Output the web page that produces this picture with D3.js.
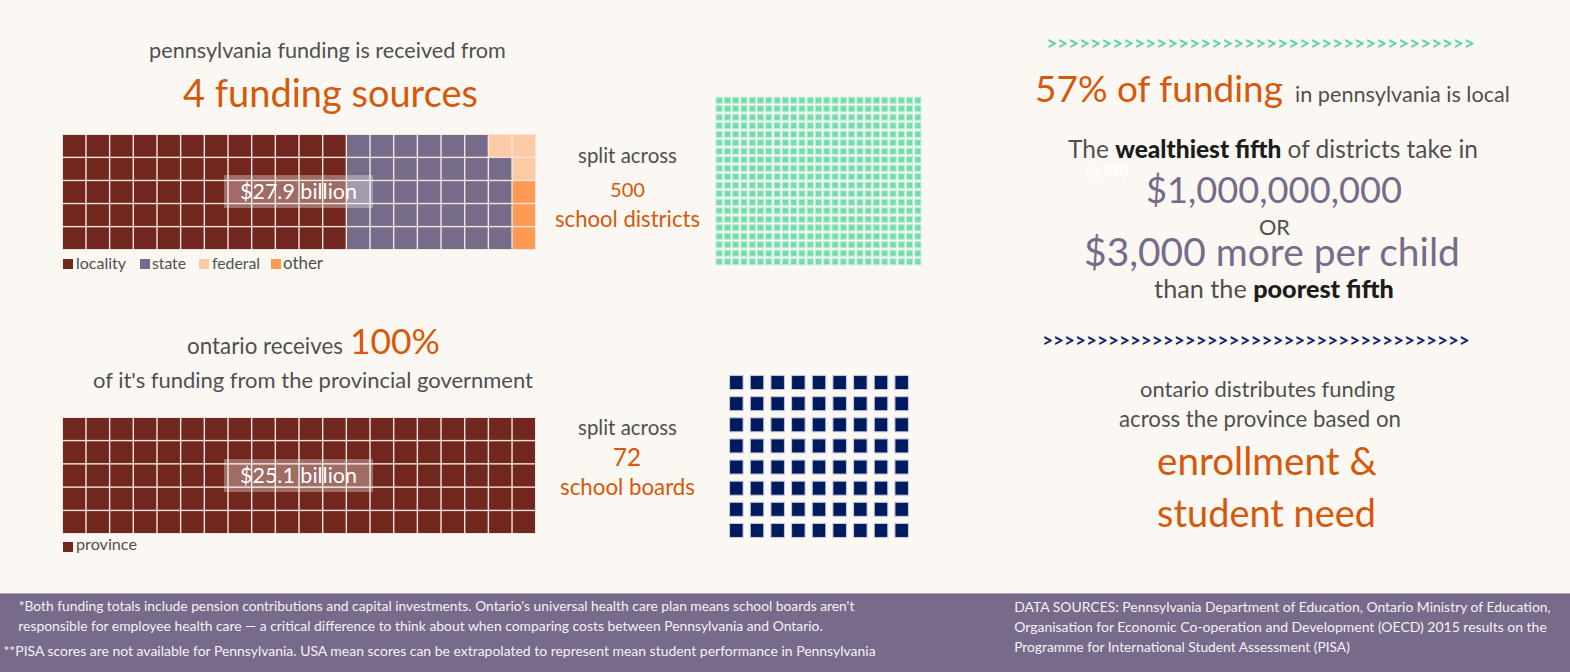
<!DOCTYPE html>
<html><head><meta charset="utf-8">
<script src="https://cdn.jsdelivr.net/npm/d3@7"></script>
<style>
html,body{margin:0;padding:0;background:#fbf8f3;}
svg{display:block;font-family:Lato,"Open Sans",sans-serif;}
</style></head>
<body><svg id="chart" width="1570" height="672"></svg>
<script>
// ---- data ----
const paSources = ["locality", "state", "federal", "other"];
const paCells = [60, 34, 3, 3];
const paTotal = "$27.9 billion";
const onSources = ["province"];
const onCells = [100];
const onTotal = "$25.1 billion";
const paDistricts = 500;
const onBoards = 72;

// ---- styles ----
const sourceColor = d3.scaleOrdinal()
  .domain(["locality", "state", "federal", "other", "province"])
  .range(["#72271e", "#776b8a", "#fdcaa6", "#fe9a52", "#72271e"]);
const ORANGE = "#d6580b", GREY = "#4f4f4f", PURPLE = "#776b8a", DARK = "#1c1c1c";

const svg = d3.select("#chart");

function fitText(sel, x0, x1, base, size) {
  sel.attr("y", base).attr("font-size", size);
  const w = sel.node().getComputedTextLength();
  const s = size * (x1 - x0) / w;
  sel.attr("font-size", s).attr("x", (x0 + x1) / 2).attr("text-anchor", "middle");
  return sel;
}
function txt(content, x0, x1, base, color, size, weight) {
  const t = svg.append("text").attr("fill", color).attr("font-weight", weight || 400).text(content);
  return fitText(t, x0, x1, base, size || 20);
}

// ---- waffle ----
function waffle(cellsArr, names, x0, x1, y0, y1, label, labelBox) {
  const cells = [];
  let idx = 0;
  names.forEach((n, k) => { for (let j = 0; j < cellsArr[k]; j++) cells.push({ name: n, i: idx++ }); });
  const cols = d3.range(20), rows = d3.range(5);
  const x = d3.scaleBand().domain(cols).range([x0, x1]).paddingInner(0.06);
  const y = d3.scaleBand().domain(rows).range([y0, y1]).paddingInner(0.06);
  const g = svg.append("g");
  g.append("rect").attr("x", x0 - 1).attr("y", y0 - 1).attr("width", x1 - x0 + 2).attr("height", y1 - y0 + 2).attr("fill", "#f3e4df");
  g.selectAll("rect.c").data(cells).join("rect").attr("class", "c")
    .attr("x", d => x(Math.floor(d.i / 5)))
    .attr("y", d => { const c = Math.floor(d.i / 5), r = d.i % 5; return y(c % 2 === 0 ? 4 - r : r); })
    .attr("width", x.bandwidth()).attr("height", y.bandwidth())
    .attr("fill", d => sourceColor(d.name));
  g.append("rect").attr("x", labelBox[0]).attr("y", labelBox[1]).attr("width", labelBox[2]).attr("height", labelBox[3])
    .attr("fill", "#ffffff").attr("fill-opacity", 0.32);
  const lt = g.append("text").attr("fill", "#ffffff").text(label);
  fitText(lt, labelBox[0] + 16, labelBox[0] + labelBox[2] - 16, labelBox[1] + 24, 20);
}

waffle(paCells, paSources, 63, 535, 135, 249, paTotal, [224, 175, 149, 33]);
waffle(onCells, onSources, 63, 535, 418, 533, onTotal, [224, 459, 149, 33]);

// legends
const paLegendX = [[63, 76, 126], [140, 152, 186], [199, 212, 260], [271, 283, 323]];
paSources.forEach((n, k) => {
  const p = paLegendX[k];
  svg.append("rect").attr("x", p[0]).attr("y", 259).attr("width", 10).attr("height", 10).attr("fill", sourceColor(n));
  const t = svg.append("text").attr("fill", GREY).text(n);
  fitText(t, p[1], p[2], 269, 15);
});
onSources.forEach((n) => {
  svg.append("rect").attr("x", 63).attr("y", 542).attr("width", 10).attr("height", 10).attr("fill", sourceColor(n));
  const t = svg.append("text").attr("fill", GREY).text(n);
  fitText(t, 76, 137, 550, 15);
});

// ---- unit grids ----
function unitGrid(n, ncol, x0, x1, y0, y1, size, fill, stroke) {
  const nrow = Math.ceil(n / ncol);
  const x = d3.scaleBand().domain(d3.range(ncol)).range([x0, x1]);
  const y = d3.scaleBand().domain(d3.range(nrow)).range([y0, y1]);
  svg.append("g").selectAll("rect").data(d3.range(n)).join("rect")
    .attr("x", i => x(i % ncol) + (x.bandwidth() - size[0]) / 2)
    .attr("y", i => y(Math.floor(i / ncol)) + (y.bandwidth() - size[1]) / 2)
    .attr("width", size[0]).attr("height", size[1])
    .attr("fill", fill).attr("stroke", stroke).attr("stroke-width", 1);
}
unitGrid(paDistricts, 25, 715, 922, 96, 266, [6, 6], "#70dcaf", "#b4ecd2");
unitGrid(onBoards, 9, 726, 912, 372, 541, [13.5, 14], "#001a5e", "#c5cadf");

// ---- left texts ----
txt("pennsylvania funding is received from", 149, 506, 58, GREY, 22);
txt("4 funding sources", 183, 478, 107, ORANGE, 40);
txt("split across", 578, 677, 163, GREY, 20);
txt(String(paDistricts), 610, 645, 197, ORANGE, 20);
txt("school districts", 555, 700, 227, ORANGE, 20);
txt("ontario receives", 187, 343, 354, GREY, 22);
txt("100%", 350, 440, 354, ORANGE, 40);
txt("of it's funding from the provincial government", 93, 533, 388, GREY, 22);
txt("split across", 578, 677, 435, GREY, 20);
txt(String(onBoards), 613, 641, 466, ORANGE, 20);
txt("school boards", 560, 695, 495, ORANGE, 20);

// ---- right texts ----
const chev = ">".repeat(39);
txt(chev, 1046, 1475, 50, "#5fd3a6", 14, 700);
txt(chev, 1042, 1470, 347, "#13256b", 14, 700);

txt("57% of funding", 1035, 1283, 102, ORANGE, 38);
txt("in pennsylvania is local", 1295, 1510, 102, GREY, 20);

const w1 = svg.append("text").attr("fill", GREY);
w1.append("tspan").text("The ");
w1.append("tspan").attr("font-weight", 900).attr("fill", DARK).text("wealthiest fifth");
w1.append("tspan").text(" of districts take in");
fitText(w1, 1068, 1478, 158, 22);

const n1 = svg.append("text").attr("fill", "#ffffff").attr("font-weight", 700).text("12,530");
fitText(n1, 1083, 1128, 177, 12);

txt("$1,000,000,000", 1146, 1402, 203, PURPLE, 40);
txt("OR", 1259, 1290, 235, GREY, 20);
txt("$3,000 more per child", 1084, 1460, 266, PURPLE, 40);

const w2 = svg.append("text").attr("fill", GREY);
w2.append("tspan").text("than the ");
w2.append("tspan").attr("font-weight", 900).attr("fill", DARK).text("poorest fifth");
fitText(w2, 1154, 1394, 298, 22);

txt("ontario distributes funding", 1140, 1395, 397, GREY, 22);
txt("across the province based on", 1119, 1401, 427, GREY, 22);
txt("enrollment &", 1157, 1377, 475, ORANGE, 38);
txt("student need", 1157, 1376, 527, ORANGE, 38);

// ---- footer ----
svg.append("rect").attr("x", 0).attr("y", 593).attr("width", 1570).attr("height", 79).attr("fill", "#776a8b");
svg.append("line").attr("x1", 0).attr("x2", 1570).attr("y1", 593.5).attr("y2", 593.5).attr("stroke", "#a79fb5").attr("stroke-width", 1);
const FOOT = "#f4f2f7";
function ftxt(content, x0, x1, base) {
  const t = svg.append("text").attr("fill", FOOT).text(content);
  fitText(t, x0, x1, base, 13);
}
ftxt("*Both funding totals include pension contributions and capital investments. Ontario's universal health care plan means school boards aren't", 18, 855, 611);
ftxt("responsible for employee health care \u2014 a critical difference to think about when comparing costs between Pennsylvania and Ontario.", 18, 823, 631);
ftxt("**PISA scores are not available for Pennsylvania. USA mean scores can be extrapolated to represent mean student performance in Pennsylvania", 3, 876, 656);
ftxt("DATA SOURCES: Pennsylvania Department of Education, Ontario Ministry of Education,", 1014, 1551, 612);
ftxt("Organisation for Economic Co-operation and Development (OECD) 2015 results on the", 1014, 1547, 632);
ftxt("Programme for International Student Assessment (PISA)", 1014, 1350, 652);
</script></body></html>
